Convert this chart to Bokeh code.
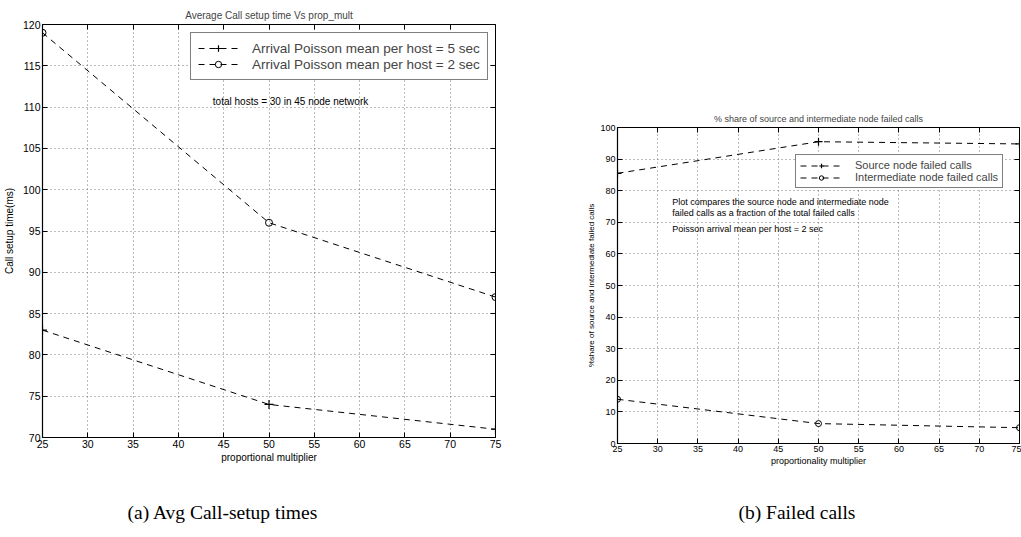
from bokeh.plotting import figure
from bokeh.models import Range1d, Legend, LegendItem, Label, FixedTicker, LinearAxis, Title, Spacer
from bokeh.layouts import row, column
from bokeh.embed import file_html
from bokeh.resources import INLINE

# ---- data ----
x_mult = [25, 50, 75]
setup_5s = [83, 74, 71]
setup_2s = [119, 96, 87]
src_failed = [85.5, 95.5, 94.8]
int_failed = [14.0, 6.3, 5.0]
x_ticks = list(range(25, 80, 5))
left_yticks = list(range(70, 125, 5))
right_yticks = list(range(0, 110, 10))

FONT = "Liberation Sans"
SERIF = "Liberation Serif"


def style(p, xt, yt, tick_size, label_size):
    p.outline_line_color = "black"
    p.outline_line_width = 1
    for ax in (p.xaxis[0], p.yaxis[0]):
        ax.major_tick_in = 5
        ax.major_tick_out = 0
        ax.minor_tick_line_color = None
        ax.axis_line_color = "black"
        ax.axis_line_width = 1.2
        ax.major_tick_line_color = "black"
        ax.major_label_text_font = FONT
        ax.major_label_text_font_size = tick_size
        ax.major_label_text_color = "black"
        ax.axis_label_text_font = FONT
        ax.axis_label_text_font_size = label_size
        ax.axis_label_text_font_style = "normal"
        ax.axis_label_text_color = "black"
    p.xaxis[0].ticker = FixedTicker(ticks=xt)
    p.yaxis[0].ticker = FixedTicker(ticks=yt)
    p.xaxis[0].major_label_standoff = 2
    p.yaxis[0].major_label_standoff = 2
    p.xaxis[0].axis_label_standoff = 1
    p.yaxis[0].axis_label_standoff = 1
    for g in (p.xgrid[0], p.ygrid[0]):
        g.grid_line_color = "#555555"
        g.grid_line_dash = "1 3"
        g.grid_line_width = 0.8
    p.xgrid[0].ticker = FixedTicker(ticks=xt)
    p.ygrid[0].ticker = FixedTicker(ticks=yt)
    top = LinearAxis(ticker=FixedTicker(ticks=xt),
                     major_label_overrides={t: "" for t in xt},
                     major_label_standoff=0, major_tick_in=5, major_tick_out=0,
                     minor_tick_line_color=None, axis_line_color=None)
    right = LinearAxis(ticker=FixedTicker(ticks=yt),
                       major_label_overrides={t: "" for t in yt},
                       major_label_standoff=0, major_tick_in=5, major_tick_out=0,
                       minor_tick_line_color=None, axis_line_color=None)
    p.add_layout(top, "above")
    p.add_layout(right, "right")
    p.title.text_font = FONT
    p.title.text_font_style = "normal"
    p.title.align = "center"
    p.title.standoff = 7


def add_caption(p, text, offset, gap, first_tick):
    # label-less axis with one white tick: only vertical spacing above the caption
    gap_axis = LinearAxis(ticker=FixedTicker(ticks=[first_tick]),
                          major_label_overrides={first_tick: ""},
                          major_tick_in=0, major_tick_out=gap,
                          major_label_standoff=0, minor_tick_in=0, minor_tick_out=0,
                          axis_line_color=None, major_tick_line_color="white",
                          minor_tick_line_color=None)
    p.add_layout(gap_axis, "below")
    cap = Title(text=text, align="left", offset=offset, standoff=0,
                text_font=SERIF, text_font_size="19.5px", text_font_style="normal",
                text_color="black")
    p.add_layout(cap, "below")


# ---------- left figure ----------
p1 = figure(width=582, height=537, output_backend="svg", toolbar_location=None,
            x_range=Range1d(25, 75), y_range=Range1d(70, 120),
            min_border_left=41, min_border_right=87, min_border_top=24, min_border_bottom=100,
            title="Average Call setup time Vs prop_mult",
            x_axis_label="proportional multiplier", y_axis_label="Call setup time(ms)")
style(p1, x_ticks, left_yticks, "10.5px", "10px")
p1.title.text_font_size = "10px"
p1.yaxis[0].axis_label_standoff = 5

l1 = p1.line(x_mult, setup_5s, line_color="black", line_dash="6 5", line_width=1)
s1 = p1.scatter(x_mult, setup_5s, marker="cross", size=9, line_color="black", line_width=1.2)
l2 = p1.line(x_mult, setup_2s, line_color="black", line_dash="6 5", line_width=1)
s2 = p1.scatter(x_mult, setup_2s, marker="circle", size=7, line_color="black",
                fill_color=None, line_width=1)

leg1 = Legend(items=[LegendItem(label="Arrival Poisson mean per host = 5 sec", renderers=[l1, s1]),
                     LegendItem(label="Arrival Poisson mean per host = 2 sec", renderers=[l2, s2])],
              location=(148, 357), border_line_color="black", border_line_width=1.6,
              padding=7, spacing=0, label_height=16, glyph_height=16, glyph_width=40,
              label_standoff=14, label_text_font=FONT, label_text_font_size="13.5px",
              background_fill_color="white", background_fill_alpha=1, margin=0)
p1.add_layout(leg1)

p1.add_layout(Label(x=43.8, y=110.7, text="total hosts = 30 in 45 node network",
                    text_font=FONT, text_font_size="10px", text_baseline="middle",
                    text_color="black"))
add_caption(p1, "(a) Avg Call-setup times", 85, 34, x_ticks[0])

# ---------- right figure ----------
p2 = figure(width=439, height=434, output_backend="svg", toolbar_location=None,
            x_range=Range1d(25, 75), y_range=Range1d(0, 100),
            min_border_left=35, min_border_right=2, min_border_top=24, min_border_bottom=94,
            title="% share of source and intermediate node failed calls",
            x_axis_label="proportionality multiplier",
            y_axis_label="%share of source and intermediate failed calls")
style(p2, x_ticks, right_yticks, "9px", "9px")
p2.yaxis[0].axis_label_text_font_size = "8px"
p2.title.text_font_size = "9px"

l3 = p2.line(x_mult, src_failed, line_color="black", line_dash="6 5", line_width=1)
s3 = p2.scatter(x_mult, src_failed, marker="cross", size=8, line_color="black", line_width=1.2)
l4 = p2.line(x_mult, int_failed, line_color="black", line_dash="6 5", line_width=1)
s4 = p2.scatter(x_mult, int_failed, marker="circle", size=6, line_color="black",
                fill_color=None, line_width=1)

leg2 = Legend(items=[LegendItem(label="Source node failed calls", renderers=[l3, s3]),
                     LegendItem(label="Intermediate node failed calls", renderers=[l4, s4])],
              location=(178, 255), border_line_color="black", border_line_width=1.6,
              padding=4, spacing=0, label_height=11, glyph_height=11, glyph_width=42,
              label_standoff=13, label_text_font=FONT, label_text_font_size="11px",
              background_fill_color="white", background_fill_alpha=1, margin=0)
p2.add_layout(leg2)

for txt, yv in [("Plot compares the source node and intermediate node", 76.3),
                ("failed calls as a fraction of the total failed calls", 72.8),
                ("Poisson arrival mean per host = 2 sec", 68.0)]:
    p2.add_layout(Label(x=31.8, y=yv, text=txt, text_font=FONT, text_font_size="9px",
                        text_baseline="middle", text_color="black"))

add_caption(p2, "(b) Failed calls", 121, 31, x_ticks[0])

layout = row(p1, column(Spacer(width=439, height=103), p2, spacing=0), spacing=0)
open("out.html", "w").write(file_html(layout, INLINE))
